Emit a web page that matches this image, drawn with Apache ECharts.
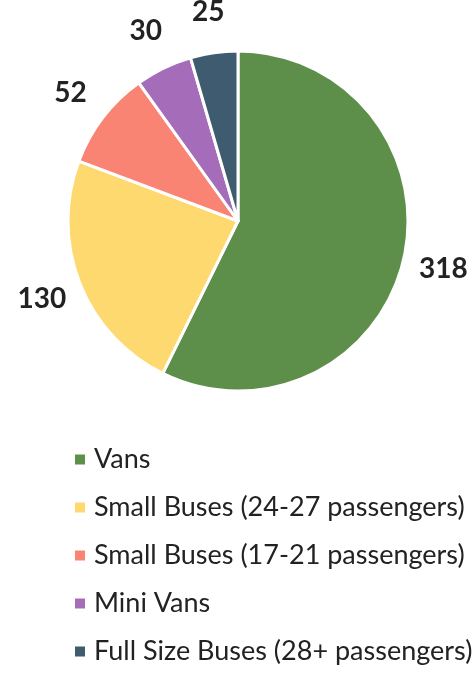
<!DOCTYPE html>
<html>
<head>
<meta charset="utf-8">
<script src="https://cdn.jsdelivr.net/npm/echarts@6/dist/echarts.min.js"></script>
<style>
  html, body { margin: 0; padding: 0; background: #fff; }
  #chart { width: 473px; height: 673px; }
</style>
</head>
<body>
<div id="chart"></div>
<script>
var categories = ["Vans", "Small Buses (24-27 passengers)", "Small Buses (17-21 passengers)", "Mini Vans", "Full Size Buses (28+ passengers)"]
var counts = [318, 130, 52, 30, 25]
var colors = ["#5e8f4a", "#fdd96f", "#fa8474", "#a56cb9", "#3e5b6f"]

var chartDom = document.getElementById("chart")
var myChart = echarts.init(chartDom)
var option

var pieData = categories.map(function (name, i) {
    return { name: name, value: counts[i], itemStyle: { color: colors[i] } }
})
var labelData = categories.map(function (name, i) {
    return { name: name, value: counts[i] }
})

option = {
    animation: false,
    textStyle: { fontFamily: "Lato" },
    legend: {
        orient: "vertical",
        left: 73,
        top: 446,
        height: 225,
        padding: 0,
        icon: "rect",
        itemWidth: 12,
        itemHeight: 12,
        itemGap: 21,
        selectedMode: false,
        data: categories,
        textStyle: {
            fontFamily: "Lato",
            fontSize: 27,
            lineHeight: 25,
            color: "#222",
            padding: [0, 0, 0, 3]
        }
    },
    series: [
        {
            type: "pie",
            center: [238, 221],
            radius: [0, 170],
            startAngle: 90,
            clockwise: true,
            data: pieData,
            itemStyle: { borderColor: "#fff", borderWidth: 3 },
            label: { show: false },
            labelLine: { show: false },
            emphasis: { disabled: true }
        },
        {
            // transparent ring used only to place the value labels
            type: "pie",
            center: [238, 221],
            radius: [170, 246],
            startAngle: 90,
            clockwise: true,
            silent: true,
            data: labelData,
            itemStyle: { color: "rgba(0,0,0,0)", borderWidth: 0 },
            label: {
                show: true,
                position: "inside",
                formatter: "{c}",
                fontFamily: "Lato",
                fontWeight: "bold",
                fontSize: 28,
                color: "#222"
            },
            labelLine: { show: false },
            emphasis: { disabled: true }
        }
    ]
}

option && myChart.setOption(option)
</script>
</body>
</html>
